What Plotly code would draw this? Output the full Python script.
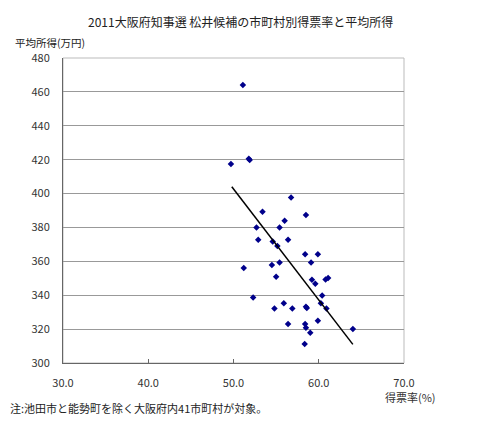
import plotly.graph_objects as go

vote_rate = [51.1, 49.7, 51.8, 51.9, 56.75, 53.4, 58.5, 56.0, 52.7, 55.4,
             52.9, 54.6, 56.4, 55.15, 58.4, 59.9, 59.1, 55.4, 54.5, 51.2,
             55.0, 59.2, 59.6, 60.8, 61.1, 60.4, 52.3, 55.9, 54.8, 56.9,
             58.5, 58.6, 60.25, 60.9, 59.9, 56.4, 58.4, 58.5, 59.0, 64.0, 58.35]
income = [464.0, 417.5, 420.5, 419.8, 397.7, 389.2, 387.3, 383.9, 380.0, 380.0,
          372.7, 371.7, 372.7, 369.0, 364.2, 364.2, 359.3, 359.3, 357.9, 356.0,
          350.9, 349.1, 346.7, 349.3, 350.1, 339.9, 338.7, 335.2, 332.2, 332.2,
          333.2, 332.4, 335.2, 332.2, 324.9, 323.0, 323.0, 320.8, 317.8, 320.0, 311.2]
trend_x = [49.8, 64.0]
trend_y = [404.0, 311.0]

title = "2011大阪府知事選 松井候補の市町村別得票率と平均所得"
y_title = "平均所得(万円)"
x_title = "得票率(%)"
note = "注:池田市と能勢町を除く大阪府内41市町村が対象。"

FONT = "Noto Sans CJK JP, Arial, sans-serif"

fig = go.Figure()
fig.add_trace(go.Scatter(x=vote_rate, y=income, mode="markers",
                         marker=dict(symbol="diamond", size=5, color="#00008B"),
                         showlegend=False, hoverinfo="x+y"))
fig.add_trace(go.Scatter(x=trend_x, y=trend_y, mode="lines",
                         line=dict(color="black", width=1.5),
                         showlegend=False, hoverinfo="skip"))

W, H = 480, 421
L, R, T, B = 63, 76, 58, 58
pw, ph = W - L - R, H - T - B
def px(x):
    return (x - L) / pw
def py(y):
    return (H - B - y) / ph

fig.update_layout(
    width=W, height=H,
    margin=dict(l=L, r=R, t=T, b=B),
    paper_bgcolor="white", plot_bgcolor="white",
    font=dict(family=FONT, size=11, color="#333"),
    xaxis=dict(range=[30, 70], dtick=10, tickformat=".1f", showgrid=False,
               zeroline=False, showline=True, linecolor="#666", linewidth=1,
               ticks="inside", ticklen=4, tickcolor="#666",
               ticklabelstandoff=10, fixedrange=True),
    yaxis=dict(range=[300, 480], dtick=20, showgrid=True, gridcolor="#999",
               gridwidth=1, zeroline=False, showline=True, linecolor="#666",
               linewidth=1, ticks="", ticklabelstandoff=10, fixedrange=True),
    shapes=[dict(type="rect", xref="paper", yref="paper", x0=0, x1=1, y0=0, y1=1,
                 line=dict(color="#bbb", width=1), layer="below")],
    annotations=[
        dict(text=title, xref="paper", yref="paper", x=px(240), y=py(22),
             xanchor="center", yanchor="middle", showarrow=False,
             font=dict(size=12, color="#222")),
        dict(text=y_title, xref="paper", yref="paper", x=px(13), y=py(42),
             xanchor="left", yanchor="middle", showarrow=False,
             font=dict(size=10.5, color="#222")),
        dict(text=x_title, xref="paper", yref="paper", x=px(438), y=py(397),
             xanchor="right", yanchor="middle", showarrow=False,
             font=dict(size=11, color="#333")),
        dict(text=note, xref="paper", yref="paper", x=px(8), y=py(408),
             xanchor="left", yanchor="middle", showarrow=False,
             font=dict(size=11, color="#222")),
    ],
)

fig.write_html("out.html")
